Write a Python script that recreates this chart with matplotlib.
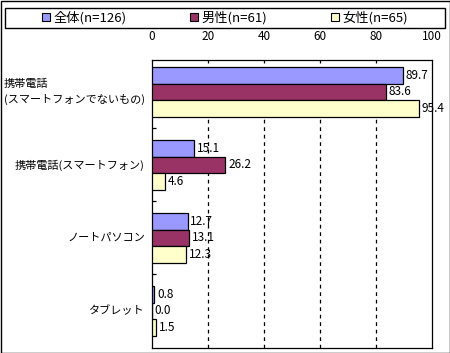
import numpy as np
import matplotlib
matplotlib.use("agg")
from matplotlib import pyplot as plt
from matplotlib.patches import Rectangle, Patch

plt.rcParams["font.family"] = ["Noto Sans CJK JP", "DejaVu Sans"]

categories = ["携帯電話\n(スマートフォンでないもの)", "携帯電話(スマートフォン)", "ノートパソコン", "タブレット"]
series_names = ["全体(n=126)", "男性(n=61)", "女性(n=65)"]
total = [89.7, 15.1, 12.7, 0.8]
male = [83.6, 26.2, 13.1, 0.0]
female = [95.4, 4.6, 12.3, 1.5]
colors = ["#9999FF", "#993366", "#FFFFCC"]
xticks = [0, 20, 40, 60, 80, 100]

fig = plt.figure(figsize=(4.5, 3.53), dpi=100)
ax = fig.add_axes([152 / 450, 5 / 353, 280 / 450, 288 / 353])

y = np.arange(len(categories))
h = 0.228
for i, (vals, c) in enumerate(zip([total, male, female], colors)):
    pos = y + (i - 1) * h
    ax.barh(pos, vals, height=h, color=c, edgecolor="black", linewidth=0.9, zorder=3)
    for p, v in zip(pos, vals):
        ax.text(v + 1.0, p, f"{v:.1f}", va="center", ha="left", fontsize=8.5, zorder=4)

ax.set_xlim(0, 100)
ax.set_ylim(3.507, -0.438)
ax.xaxis.tick_top()
ax.set_xticks(xticks)
ax.tick_params(axis="x", length=0, pad=12, labelsize=8.5)
ax.set_yticks(y[:-1] + 0.5)
ax.set_yticklabels([])
ax.tick_params(axis="y", direction="in", length=3, width=0.9)
for gx in xticks[1:-1]:
    ax.axvline(gx, color="black", linestyle=(0, (3, 3)), linewidth=0.9, zorder=1)
for s in ax.spines.values():
    s.set_linewidth(0.9)

for yi, lab in zip(y, categories):
    ax.text(-2.5, yi, lab, ha="right", va="center", multialignment="left",
            fontsize=8, transform=ax.transData, linespacing=1.5)

# legend
handles = [Patch(facecolor=c, edgecolor="black", linewidth=0.8) for c in colors]
fig.legend(handles, series_names, loc="center", bbox_to_anchor=(0.5, 1 - 18 / 353),
           ncol=3, frameon=False, fontsize=9.5, handlelength=0.6, handleheight=0.6,
           handletextpad=0.3, columnspacing=4.8)
fig.patches.append(Rectangle((5 / 450, 1 - 28 / 353), 440 / 450, 20 / 353,
                             transform=fig.transFigure, fill=False, edgecolor="black", linewidth=1))
fig.patches.append(Rectangle((0.5 / 450, 0.5 / 353), 449 / 450, 352 / 353,
                             transform=fig.transFigure, fill=False, edgecolor="black", linewidth=1))

fig.savefig("out.png", dpi=100)
